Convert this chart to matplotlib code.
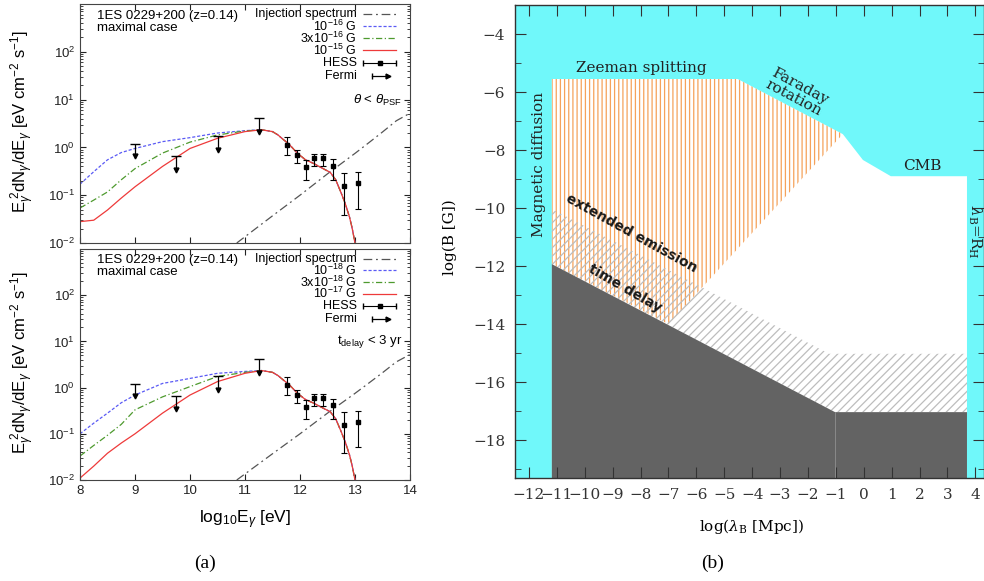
import numpy as np
import matplotlib
matplotlib.use("Agg")
import matplotlib.pyplot as plt
from matplotlib.ticker import LogLocator, NullFormatter, MultipleLocator, FixedLocator

plt.rcParams['font.family'] = ['Liberation Sans', 'DejaVu Sans']
plt.rcParams['mathtext.fontset'] = 'custom'
plt.rcParams['mathtext.rm'] = 'Liberation Sans'
plt.rcParams['mathtext.it'] = 'Liberation Sans:italic'
plt.rcParams['mathtext.bf'] = 'Liberation Sans:bold'
plt.rcParams['hatch.linewidth'] = 0.9

# ---------------- panel (a): cascade spectra of 1ES 0229+200 ----------------
low_x = [8.0, 8.25, 8.5, 8.75, 9.0, 9.5, 10.0, 10.5, 11.0, 11.3]
tail_x = [11.5, 11.6, 11.7, 11.8, 11.95, 12.1, 12.25, 12.4, 12.55, 12.65,
          12.75, 12.82, 12.9, 12.95, 13.0]
tail_y = [2.14, 1.82, 1.45, 1.17, 0.76, 0.55, 0.46, 0.37, 0.30, 0.21,
          0.11, 0.068, 0.035, 0.02, 0.01]

# theta < theta_PSF (top)
top_blue = [0.17, 0.31, 0.55, 0.78, 0.95, 1.32, 1.60, 2.00, 2.24, 2.34]
top_green = [0.054, 0.079, 0.117, 0.21, 0.36, 0.76, 1.29, 1.82, 2.21, 2.34]
top_red = [0.028, 0.030, 0.049, 0.087, 0.15, 0.40, 0.95, 1.55, 2.14, 2.34]
top_labels = ['10$^{-16}$ G', '3x10$^{-16}$ G', '10$^{-15}$ G']

# t_delay < 3 yr (bottom)
bot_blue = [0.10, 0.17, 0.28, 0.47, 0.69, 1.23, 1.58, 2.04, 2.24, 2.34]
bot_green = [0.033, 0.056, 0.093, 0.16, 0.33, 0.63, 1.05, 1.74, 2.14, 2.34]
bot_red = [0.011, 0.020, 0.038, 0.063, 0.10, 0.28, 0.69, 1.35, 2.04, 2.34]
bot_labels = ['10$^{-18}$ G', '3x10$^{-18}$ G', '10$^{-17}$ G']

inj_x = [10.85, 11.5, 12.0, 12.5, 13.0, 13.25, 13.5, 13.75, 14.0]
inj_y = [0.01, 0.037, 0.10, 0.28, 0.75, 1.25, 2.1, 3.6, 5.2]

hess_x = [11.77, 11.95, 12.1, 12.25, 12.42, 12.6, 12.8, 13.05]
hess_y = [1.12, 0.70, 0.38, 0.59, 0.59, 0.41, 0.155, 0.18]
hess_lo = [0.70, 0.47, 0.21, 0.40, 0.40, 0.21, 0.039, 0.051]
hess_hi = [1.68, 0.89, 0.55, 0.73, 0.73, 0.56, 0.29, 0.31]

fermi_x = [9.0, 9.75, 10.5, 11.25]
fermi_top = [1.17, 0.66, 1.74, 4.1]
fermi_bot = [0.65, 0.34, 0.90, 2.1]

# ---------------- panel (b): B-field / coherence length plane ----------------
allowed_x = [-11.18, -11.18, -4.52, -0.75, -0.03, 0.97, 3.70, 3.70]
allowed_y = [-20.0, -5.55, -5.55, -7.45, -8.34, -8.90, -8.90, -20.0]
zeeman_x = [-11.18, -4.52, -0.75, -7.0, -11.18]
zeeman_y = [-5.55, -5.55, -7.45, -14.0, -11.93]
extended_x = [-11.18, -1.24, 3.70, 3.70, -1.03, -11.18]
extended_y = [-10.03, -15.02, -15.02, -17.03, -17.03, -11.93]
delay_x = [-11.18, -1.03, 3.70, 3.70, -11.18]
delay_y = [-11.93, -17.03, -17.03, -20.0, -20.0]

BLUE = '#5a5af5'
GREEN = '#4e9a2e'
RED = '#ee3a3a'
INJ = '#555555'
CYAN = '#70f8fa'
DARK = '#636363'
ORANGE = '#f5a25a'
HATCH_GREY = '#bdbdbd'

fig = plt.figure(figsize=(9.84, 5.81), dpi=100)
W, H = 984.0, 581.0
ax_top = fig.add_axes([80 / W, 1 - 243 / H, 330 / W, 239 / H])
ax_bot = fig.add_axes([80 / W, 1 - 480 / H, 330 / W, 231 / H])
ax_b = fig.add_axes([515 / W, 1 - 478 / H, (W - 515) / W, 473 / H])


def spectrum_panel(ax, blue, green, red, labels, cut_text, show_x):
    ax.set_yscale('log')
    ax.set_xlim(8, 14)
    ax.set_ylim(1e-2, 1e3)
    ax.plot(inj_x, inj_y, color=INJ, lw=0.9, dashes=(7, 3, 1.5, 3))
    ax.plot(low_x + tail_x, blue + tail_y, color=BLUE, lw=0.9, dashes=(2.5, 1.5))
    ax.plot(low_x + tail_x, green + tail_y, color=GREEN, lw=0.9, dashes=(5, 2, 1, 2))
    ax.plot(low_x + tail_x, red + tail_y, color=RED, lw=0.9)
    yerr = [np.array(hess_y) - np.array(hess_lo), np.array(hess_hi) - np.array(hess_y)]
    ax.errorbar(hess_x, hess_y, yerr=yerr, fmt='s', ms=2.5, color='k',
                elinewidth=0.8, capsize=2, capthick=0.8)
    ax.vlines(fermi_x, fermi_bot, fermi_top, color='k', lw=0.9)
    ax.plot(fermi_x, fermi_top, ls='none', marker='_', ms=7, mew=1.0, color='k')
    ax.plot(fermi_x, fermi_bot, ls='none', marker='v', ms=3.5, color='k')

    # legend drawn by hand: text first, sample on the right
    rows = [0.958, 0.908, 0.857, 0.806, 0.755, 0.697]
    tx, l0, l1 = 0.839, 0.858, 0.958
    names = ['Injection spectrum'] + labels + ['HESS', 'Fermi']
    for name, yy in zip(names, rows):
        ax.text(tx, yy, name, transform=ax.transAxes, ha='right', va='center',
                fontsize=9)
    tr = ax.transAxes
    ax.plot([l0, l1], [rows[0]] * 2, transform=tr, color=INJ, lw=0.9, dashes=(7, 3, 1.5, 3))
    ax.plot([l0, l1], [rows[1]] * 2, transform=tr, color=BLUE, lw=0.9, dashes=(2.5, 1.5))
    ax.plot([l0, l1], [rows[2]] * 2, transform=tr, color=GREEN, lw=0.9, dashes=(5, 2, 1, 2))
    ax.plot([l0, l1], [rows[3]] * 2, transform=tr, color=RED, lw=0.9)
    ax.plot([l0, l1], [rows[4]] * 2, transform=tr, color='k', lw=0.8)
    ax.plot([l0, l1], [rows[4]] * 2, transform=tr, ls='none', marker='|', ms=4, color='k')
    ax.plot([(l0 + l1) / 2], [rows[4]], transform=tr, marker='s', ms=2.5, color='k')
    ax.plot([0.885, 0.933], [rows[5]] * 2, transform=tr, color='k', lw=0.9)
    ax.plot([0.885], [rows[5]], transform=tr, marker='|', ms=5, color='k')
    ax.plot([0.933], [rows[5]], transform=tr, marker='>', ms=3.5, color='k')

    ax.text(0.052, 0.925, '1ES 0229+200 (z=0.14)\nmaximal case', transform=tr,
            ha='left', va='center', fontsize=9.5, linespacing=1.0)
    ax.text(0.976, 0.598, cut_text, transform=tr, ha='right', va='center', fontsize=9.5)

    ax.set_ylabel(r'E$_\gamma^{\ 2}$dN$_\gamma$/dE$_\gamma$ [eV cm$^{-2}$ s$^{-1}$]',
                  fontsize=12)
    ax.yaxis.set_label_coords(-0.13, 0.51)
    # the 10^3 label sits outside the visible strip in the original
    ax.yaxis.set_major_locator(FixedLocator([1e-2, 1e-1, 1e0, 1e1, 1e2]))
    ax.yaxis.set_minor_locator(LogLocator(base=10, subs=np.arange(2, 10), numticks=20))
    ax.yaxis.set_minor_formatter(NullFormatter())
    ax.xaxis.set_major_locator(MultipleLocator(1))
    ax.tick_params(which='both', direction='in', top=True, right=True,
                   labelsize=9.5, colors='#222222')
    ax.tick_params(which='major', length=4)
    ax.tick_params(which='minor', length=2)
    if show_x:
        ax.set_xlabel(r'log$_{10}$E$_\gamma$ [eV]', fontsize=12.5)
        ax.xaxis.set_label_coords(0.5, -0.125)
    else:
        ax.tick_params(labelbottom=False)
    for s in ax.spines.values():
        s.set_color('#444444')
        s.set_linewidth(0.8)


spectrum_panel(ax_top, top_blue, top_green, top_red, top_labels,
               r'$\theta$ < $\theta_{\rm PSF}$', False)
spectrum_panel(ax_bot, bot_blue, bot_green, bot_red, bot_labels,
               r't$_{\rm delay}$ < 3 yr', True)

# ---------------- panel (b) ----------------
serif = 'DejaVu Serif'
ax = ax_b
ax.set_facecolor(CYAN)
ax.set_xlim(-12.5, 4.31)
ax.set_ylim(-19.3, -3.0)
ax.fill(allowed_x, allowed_y, color='white', lw=0)
ax.fill(zeeman_x, zeeman_y, facecolor='none', edgecolor=ORANGE, hatch='||||', lw=0)
ax.fill(extended_x, extended_y, facecolor='none', edgecolor=HATCH_GREY, hatch='////', lw=0)
ax.fill(delay_x, delay_y, color=DARK, lw=0)
ax.plot([delay_x[1], delay_x[1]], [delay_y[1], delay_y[-1]], color='#8a8a8a', lw=0.7)

tkw = dict(family=serif, color='#222222', math_fontfamily='dejavuserif')
ax.text(-7.99, -5.17, 'Zeeman splitting', ha='center', va='center', fontsize=11, **tkw)
ax.text(-2.4, -6.0, 'Faraday\nrotation', ha='center', va='center', rotation=-28,
        rotation_mode='anchor', fontsize=11, linespacing=0.95, **tkw)
ax.text(2.09, -8.55, 'CMB', ha='center', va='center', fontsize=11, **tkw)
ax.text(-11.64, -8.48, 'Magnetic diffusion', ha='center', va='center', rotation=90,
        fontsize=11, **tkw)
ax.text(-8.34, -10.86, 'extended emission', ha='center', va='center', rotation=-29,
        rotation_mode='anchor', fontsize=10, weight='bold', family='DejaVu Sans',
        color='#1a1a1a')
ax.text(-8.56, -12.76, 'time delay', ha='center', va='center', rotation=-30,
        rotation_mode='anchor', fontsize=10, weight='bold', family='DejaVu Sans',
        color='#1a1a1a')
ax.text(3.99, -10.8, r'$\lambda_{\rm B}$=R$_{\rm H}$', ha='center', va='center',
        rotation=270, rotation_mode='anchor', fontsize=11, **tkw)

ax.xaxis.set_major_locator(MultipleLocator(1))
ax.yaxis.set_major_locator(MultipleLocator(2))
ax.yaxis.set_minor_locator(MultipleLocator(1))
ax.tick_params(which='both', direction='in', top=True, right=True,
               labelsize=11, colors='#333333', pad=7)
ax.tick_params(which='major', length=8)
ax.tick_params(which='minor', length=4)
for lbl in ax.get_xticklabels() + ax.get_yticklabels():
    lbl.set_family(serif)
ax.set_ylabel(r'log(B [G])', fontsize=11, family=serif, math_fontfamily='dejavuserif')
ax.yaxis.set_label_coords(-0.124, 0.51)
ax.set_xlabel(r'log($\lambda_{\rm B}$ [Mpc])', fontsize=11, family=serif,
              math_fontfamily='dejavuserif')
ax.xaxis.set_label_coords(0.505, -0.082)
for s in ax.spines.values():
    s.set_color('#333333')
    s.set_linewidth(1.0)

fig.text(205 / W, 1 - 563 / H, '(a)', ha='center', va='center', fontsize=14,
         family='Liberation Serif')
fig.text(713 / W, 1 - 563 / H, '(b)', ha='center', va='center', fontsize=14,
         family='Liberation Serif')

fig.savefig('out.png', dpi=100)
